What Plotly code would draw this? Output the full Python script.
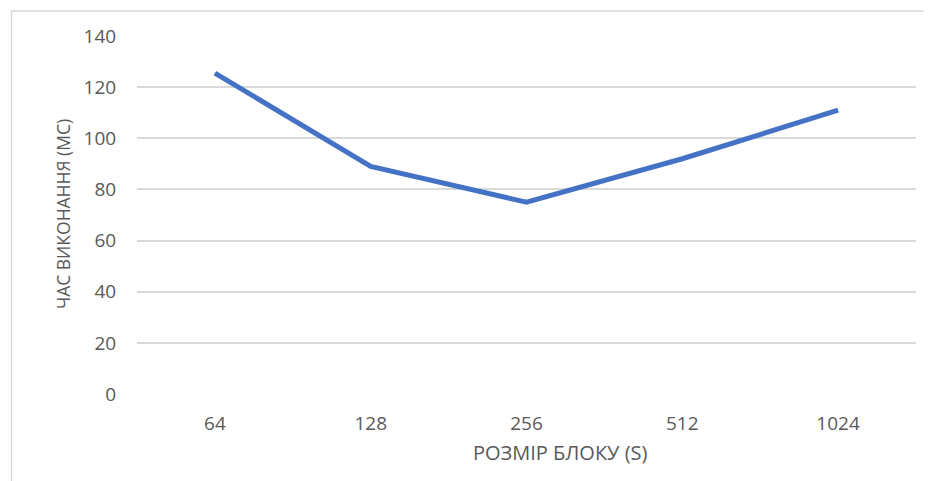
import plotly.graph_objects as go

categories = ["64", "128", "256", "512", "1024"]
times_ms = [125.5, 89, 75, 92, 111]
y_ticks = [0, 20, 40, 60, 80, 100, 120, 140]

W, H = 932, 481
L, R, T, B = 129, 24, 28, 95
pw, ph = W - L - R, H - T - B

def px(x):
    return (x - L) / pw

def py(y):
    return (H - B - y) / ph

fig = go.Figure()
fig.add_trace(go.Scatter(
    x=categories, y=times_ms, mode="lines",
    line=dict(color="#4472C4", width=5),
    hoverinfo="skip", showlegend=False,
))

font = "Open Sans"
grey = "#595959"
fig.update_layout(
    width=W, height=H,
    margin=dict(l=L, r=R, t=T, b=B, pad=0),
    paper_bgcolor="white", plot_bgcolor="white",
    font=dict(family=font, color=grey, size=19),
    xaxis=dict(
        type="category", range=[-0.5, 4.5],
        showgrid=False, zeroline=False, showline=False,
        ticks="outside", ticklen=12, tickcolor="white",
        tickfont=dict(size=19, color=grey),
    ),
    yaxis=dict(
        range=[0, 140], tickvals=y_ticks,
        showgrid=True, gridcolor="#D9D9D9", gridwidth=1.5,
        zeroline=False, showline=False,
        ticks="outside", ticklen=16, tickcolor="white",
        tickfont=dict(size=19, color=grey),
    ),
    annotations=[
        dict(text="ЧАС ВИКОНАННЯ (МС)", xref="paper", yref="paper",
             x=px(55), y=py(206), showarrow=False, textangle=-90,
             xanchor="center", yanchor="middle",
             font=dict(size=17.5, color=grey, family=font)),
        dict(text="РОЗМІР БЛОКУ (S)", xref="paper", yref="paper",
             x=px(552), y=py(445), showarrow=False,
             xanchor="center", yanchor="middle",
             font=dict(size=20, color=grey, family=font)),
    ],
    shapes=[dict(
        type="rect", xref="paper", yref="paper",
        x0=px(3.5), x1=px(W + 30), y0=py(H + 30), y1=py(3),
        line=dict(color="#D9D9D9", width=1.5), fillcolor="rgba(0,0,0,0)",
        layer="below",
    )],
)

fig.write_html("out.html")
